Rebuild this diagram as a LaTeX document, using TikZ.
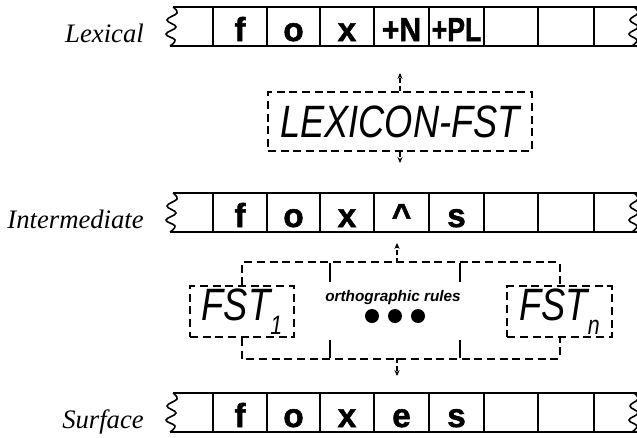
\documentclass[tikz,border=0pt]{standalone}
\usepackage{fontspec}
\setmainfont{Liberation Serif}
\setsansfont{Liberation Sans}
\newfontfamily\heavysans[FakeBold=1.5]{Liberation Sans Bold}
\usetikzlibrary{arrows.meta}
\newcommand\drawtape[1]{%
\begin{scope}[shift={(0,#1)}]
 \draw[tapeline] plot[smooth,tension=0.7] coordinates {(173,0) (177,6) (167,13) (176,20) (166,27) (175,33) (170,39)};
 \draw[tapeline] (173,0) -- (640,0);
 \draw[tapeline] (170,39) -- (640,39);
 \foreach \x in {213,267,320,374,429,484,538,594} \draw[tapeline] (\x,0) -- (\x,39);
 \draw[tapeline] plot[smooth,tension=0.7] coordinates {(634,0) (638,6) (630,13) (638,20) (629,27) (637,33) (632,39)};
\end{scope}}
\begin{document}
\begin{tikzpicture}[x=0.75pt,y=-0.75pt,
  tapeline/.style={line width=1.2pt},
  cellsym/.style={font=\heavysans\fontsize{25}{25}\selectfont, anchor=base, inner sep=0pt},
  rowlabel/.style={font=\itshape\fontsize{20}{20}\selectfont, anchor=base east, inner sep=0pt},
  dbox/.style={draw, line width=1.5pt, dash pattern=on 6pt off 3.5pt, inner sep=0pt,
     font=\sffamily\itshape\fontsize{34}{34}\selectfont},
  dline/.style={line width=1.5pt, dash pattern=on 6pt off 3.5pt},
  tickline/.style={line width=1.1pt},
  arr/.style={line width=1.2pt, dash pattern=on 4pt off 2pt, -{Stealth[length=4.5pt,width=4pt]}},
  dot/.style={circle, fill=black, inner sep=0pt, minimum size=10.5pt}
]
\useasboundingbox (0,0) rectangle (637,437);
\begin{scope}
\clip (0,0) rectangle (637,437);
\drawtape{7}
\drawtape{193}
\drawtape{393}
\end{scope}

% row labels
\node[rowlabel] (lLex) at (144,42) {Lexical};
\node[rowlabel] (lInt) at (144,228) {Intermediate};
\node[rowlabel] (lSur) at (144,428) {Surface};

% lexical tape symbols
\node[cellsym] (lx1) at (240,41) {f};
\node[cellsym] (lx2) at (293.5,41) {o};
\node[cellsym] (lx3) at (347,41) {x};
\node[cellsym] (lx4) at (401.5,41) {\scalebox{0.9}[1]{+N}};
\node[cellsym] (lx5) at (456.5,41) {\scalebox{0.8}[1]{+PL}};
% intermediate
\node[cellsym] (im1) at (240,227) {f};
\node[cellsym] (im2) at (293.5,227) {o};
\node[cellsym] (im3) at (347,227) {x};
\node[cellsym] (im4) at (401.5,227) {\^{}};
\node[cellsym] (im5) at (456.5,227) {s};
% surface
\node[cellsym] (sf1) at (240,427) {f};
\node[cellsym] (sf2) at (293.5,427) {o};
\node[cellsym] (sf3) at (347,427) {x};
\node[cellsym] (sf4) at (401.5,427) {e};
\node[cellsym] (sf5) at (456.5,427) {s};

% LEXICON-FST
\node[dbox, minimum width=198pt, minimum height=44pt] (lexfst) at (400,121.5)
  {\scalebox{0.8}[1]{LEXICON-FST}};
\coordinate (lexUp) at (400,73);
\coordinate (lexDown) at (400,163);
\draw[arr] (lexfst.north) -- (lexUp);
\draw[arr] (lexfst.south) -- (lexDown);

% FST boxes
\node[dbox, minimum width=78pt, minimum height=38pt] (fst1) at (242,311.5)
  {\scalebox{0.8}[1]{FST\raisebox{-0.3em}{\fontsize{20}{20}\selectfont 1}}};
\node[dbox, minimum width=78.5pt, minimum height=38pt] (fstn) at (559.5,311.5)
  {\scalebox{0.8}[1]{FST\raisebox{-0.3em}{\fontsize{20}{20}\selectfont n}}};

\draw[dline] (fst1.north) -- ++(0,-23) -| (fstn.north);
\draw[dline] (fst1.south) -- ++(0,21) -| (fstn.south);

\coordinate (gTop) at (397,263);
\coordinate (gBot) at (397,358);
\coordinate (gUp) at (397,243);
\coordinate (gDown) at (397,376);
\draw[arr] (gTop) -- (gUp);
\draw[arr] (gBot) -- (gDown);

\draw[tickline] (330,263) -- (330,282);
\draw[tickline] (460,263) -- (460,282);
\draw[tickline] (330,340) -- (330,358);
\draw[tickline] (460,340) -- (460,358);

\node[font=\sffamily\bfseries\itshape\fontsize{11.5}{11.5}\selectfont, inner sep=0pt] (ortho) at (393,298) {orthographic rules};
\node[dot] (d1) at (372,316) {};
\node[dot] (d2) at (395,316) {};
\node[dot] (d3) at (418,316) {};
\end{tikzpicture}
\end{document}
